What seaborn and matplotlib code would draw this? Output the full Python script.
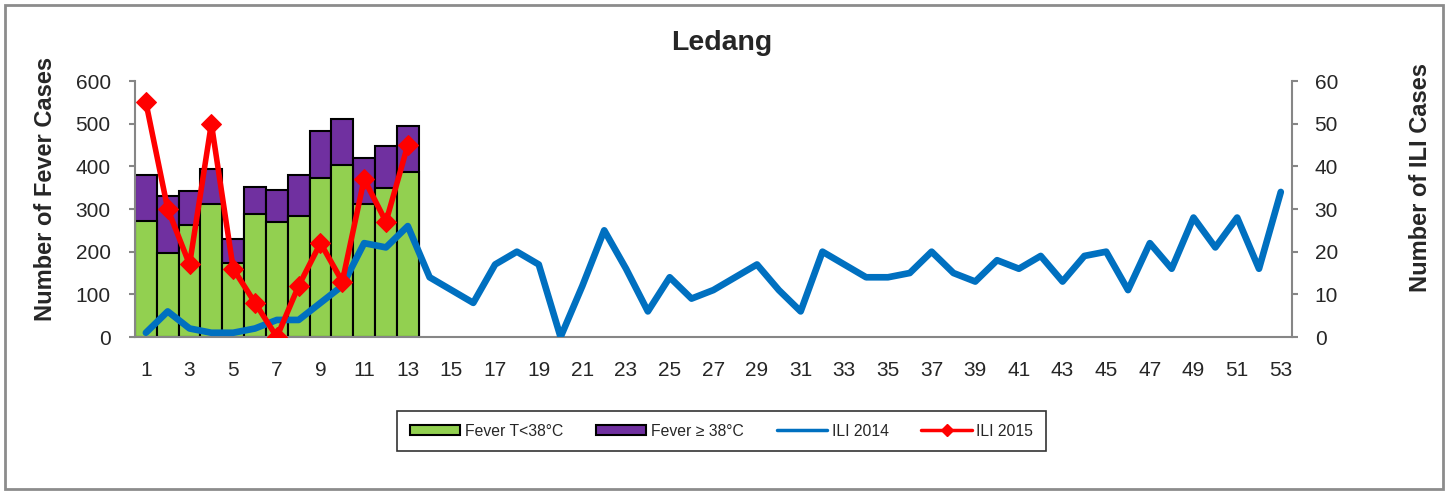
import numpy as np
import pandas as pd
import seaborn as sns
import matplotlib.pyplot as plt
from matplotlib.patches import Rectangle, Patch
from matplotlib.lines import Line2D
from matplotlib.ticker import MultipleLocator, FixedLocator

# weekly data
weeks = list(range(1, 54))
weeks_2015 = list(range(1, 14))
fever_below_38 = [272, 198, 262, 312, 174, 288, 270, 284, 372, 403, 312, 350, 387]
fever_above_38 = [108, 132, 81, 82, 56, 63, 75, 95, 112, 109, 108, 98, 108]
ili_2014 = [1, 6, 2, 1, 1, 2, 4, 4, 8, 12, 22, 21, 26, 14, 11, 8, 17, 20, 17, 0,
            12, 25, 16, 6, 14, 9, 11, 14, 17, 11, 6, 20, 17, 14, 14, 15, 20, 15,
            13, 18, 16, 19, 13, 19, 20, 11, 22, 16, 28, 21, 28, 16, 34]
ili_2015 = [55, 30, 17, 50, 16, 8, 0, 12, 22, 13, 37, 27, 45]

green = '#92D050'
purple = '#7030A0'
blue = '#0070C0'
red = '#FF0000'
grey = '#868686'

sns.set_style('white')
plt.rcParams['font.family'] = ['Liberation Sans', 'DejaVu Sans']

fever = pd.DataFrame({'week': weeks_2015,
                      'low': fever_below_38,
                      'total': np.array(fever_below_38) + np.array(fever_above_38)})

fig = plt.figure(figsize=(14.53, 4.94), dpi=100)
ax = fig.add_axes([0.0929, 0.3178, 0.7961, 0.5182])

# stacked bars: draw total in purple, then the lower part in green on top
sns.barplot(data=fever, x='week', y='total', native_scale=True, width=1.0,
            color=purple, saturation=1, edgecolor='black', linewidth=1.5, ax=ax)
sns.barplot(data=fever, x='week', y='low', native_scale=True, width=1.0,
            color=green, saturation=1, edgecolor='black', linewidth=1.5, ax=ax)

ax.set_xlim(0.5, 53.5)
ax.set_ylim(0, 600)
ax.yaxis.set_major_locator(MultipleLocator(100))
ax.xaxis.set_major_locator(FixedLocator(np.arange(0.5, 54, 1)))
ax.xaxis.set_minor_locator(FixedLocator(weeks[::2]))
ax.set_xticklabels([])
ax.set_xticklabels([str(w) for w in weeks[::2]], minor=True)
ax.tick_params(axis='x', which='major', length=4.5, width=1.5, color=grey, direction='out')
ax.tick_params(axis='x', which='minor', length=0, pad=17, labelsize=15)
ax.tick_params(axis='y', length=4.5, width=1.5, color=grey, direction='out',
               pad=13, labelsize=15, left=True)
ax.set_xlabel('')
ax.set_ylabel('Number of Fever Cases', fontsize=17, fontweight='bold')
ax.yaxis.set_label_coords(-0.067, 0.58)
for side in ['top', 'right']:
    ax.spines[side].set_visible(False)
for side in ['left', 'bottom']:
    ax.spines[side].set_color(grey)
    ax.spines[side].set_linewidth(1.5)

# ILI lines on the secondary axis
ax2 = ax.twinx()
sns.lineplot(x=weeks, y=ili_2014, color=blue, linewidth=4.8, ax=ax2)
sns.lineplot(x=weeks_2015, y=ili_2015, color=red, linewidth=4, marker='D',
             markersize=10, markeredgecolor=red, ax=ax2)
ax2.set_ylim(0, 60)
ax2.set_xlim(0.5, 53.5)
ax2.yaxis.set_major_locator(MultipleLocator(10))
ax2.tick_params(axis='y', length=4.5, width=1.5, color=grey, direction='out',
                pad=12, labelsize=15, right=True)
ax2.set_ylabel('Number of ILI Cases', fontsize=17, fontweight='bold', rotation=90)
ax2.yaxis.set_label_coords(1.101, 0.623)
for side in ['top', 'left', 'bottom']:
    ax2.spines[side].set_visible(False)
ax2.spines['right'].set_color(grey)
ax2.spines['right'].set_linewidth(1.5)

fig.text(0.4966, 0.913, 'Ledang', ha='center', va='center', fontsize=20.5, fontweight='bold')

handles = [Patch(facecolor=green, edgecolor='black', linewidth=1.5),
           Patch(facecolor=purple, edgecolor='black', linewidth=1.5),
           Line2D([], [], color=blue, linewidth=2.5),
           Line2D([], [], color=red, linewidth=2.5, marker='D', markersize=6)]
labels = ['Fever T<38°C', 'Fever ≥ 38°C', 'ILI 2014', 'ILI 2015']
leg = fig.legend(handles, labels, loc='center', bbox_to_anchor=(0.4966, 0.1275),
                 ncol=4, frameon=True, fancybox=False, edgecolor='black',
                 fontsize=11.3, handlelength=3.2, handleheight=0.6, columnspacing=2.1,
                 handletextpad=0.3, borderpad=0.8)
leg.get_frame().set_linewidth(1.2)

# outer chart border
fig.patches.append(Rectangle((0.0035, 0.01), 0.9895, 0.98, transform=fig.transFigure,
                             fill=False, edgecolor='#8C8C8C', linewidth=2))

fig.savefig('out.png', dpi=100)
